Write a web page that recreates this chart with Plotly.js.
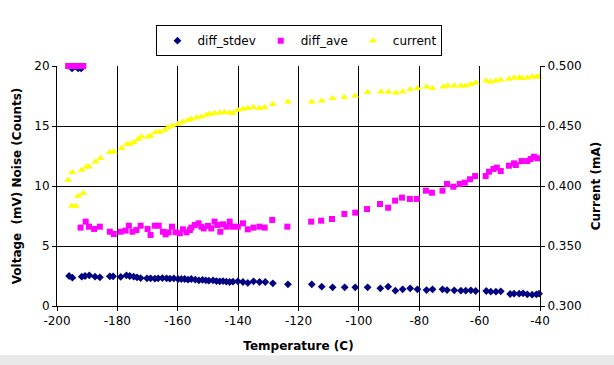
<!DOCTYPE html>
<html><head><meta charset="utf-8">
<script src="https://cdn.plot.ly/plotly-3.0.1.min.js"></script>
<style>html,body{margin:0;padding:0;background:#fff}#chart{width:614px;height:365px}</style>
</head><body><div id="chart"></div>
<script>
const stdevT = [-195.0,-193.0,-192.0,-196.0,-194.9,-191.8,-190.7,-189.3,-187.4,-185.8,-182.5,-181.4,-178.9,-177.0,-175.9,-174.6,-173.5,-172.3,-170.2,-169.0,-167.6,-166.5,-165.1,-163.7,-162.6,-161.3,-159.9,-158.8,-157.7,-156.6,-155.5,-154.2,-153.0,-151.8,-150.7,-149.7,-148.3,-147.2,-146.1,-145.0,-143.9,-142.8,-141.7,-140.1,-138.4,-136.8,-134.9,-132.9,-131.0,-128.5,-123.5,-115.6,-112.3,-108.7,-104.7,-101.2,-97.1,-92.9,-90.3,-87.9,-85.5,-83.0,-80.6,-77.6,-75.6,-72.3,-70.8,-68.4,-66.2,-64.6,-62.9,-61.3,-57.8,-56.3,-54.6,-53.0,-49.9,-48.6,-46.9,-45.6,-44.2,-42.6,-41.2,-40.3];
const stdevV = [19.8,19.8,19.8,2.5,2.36,2.44,2.5,2.56,2.44,2.39,2.47,2.47,2.42,2.56,2.5,2.44,2.39,2.33,2.31,2.31,2.28,2.31,2.33,2.31,2.28,2.31,2.25,2.25,2.25,2.19,2.25,2.19,2.14,2.17,2.14,2.11,2.14,2.08,2.06,2.08,2.03,2.0,2.03,2.06,2.0,1.92,2.06,2.0,2.0,1.89,1.81,1.81,1.61,1.56,1.56,1.56,1.56,1.47,1.61,1.28,1.39,1.47,1.39,1.33,1.39,1.39,1.33,1.31,1.28,1.28,1.31,1.25,1.25,1.19,1.19,1.22,1.0,1.03,1.03,1.06,0.97,0.94,0.97,1.03];

const aveT = [-196.3,-195.3,-194.3,-193.3,-192.3,-191.3,-192.2,-190.5,-189.4,-187.7,-185.8,-182.5,-181.2,-178.9,-177.3,-176.2,-175.0,-173.7,-172.3,-170.0,-169.0,-167.6,-166.3,-164.9,-164.0,-163.0,-161.9,-160.7,-159.3,-158.3,-157.1,-156.0,-155.5,-154.4,-153.1,-152.2,-151.4,-150.0,-148.9,-147.8,-146.9,-145.9,-145.0,-143.9,-142.8,-141.9,-140.1,-138.4,-136.8,-134.9,-132.9,-131.2,-128.7,-123.7,-115.8,-112.5,-108.9,-104.8,-101.2,-97.3,-93.0,-90.3,-88.0,-85.7,-83.1,-80.8,-77.8,-75.8,-72.3,-70.8,-68.7,-66.6,-64.9,-63.2,-61.5,-58.0,-56.9,-55.4,-54.3,-53.0,-50.3,-48.6,-48.0,-46.1,-44.2,-43.1,-42.0,-40.9];
const aveV = [20,20,20,20,20,20,6.53,7.03,6.61,6.42,6.61,6.19,6.0,6.19,6.28,6.69,6.19,6.33,6.69,6.42,5.92,6.69,6.69,6.19,5.97,6.14,6.61,6.14,6.06,6.39,6.14,6.33,6.53,6.75,6.89,6.61,6.47,6.67,6.47,7.03,6.75,6.19,6.81,6.61,7.03,6.61,6.61,6.89,6.39,6.53,6.61,6.53,7.17,6.61,7.03,7.11,7.25,7.67,7.78,8.08,8.5,8.19,8.78,9.03,8.92,8.92,9.61,9.44,9.61,10.17,9.94,10.17,10.28,10.56,10.83,10.83,11.19,11.42,11.53,11.25,11.69,11.89,11.75,12.08,12.08,12.25,12.44,12.31];

const curT = [-195.1,-193.8,-193.0,-191.3,-196.3,-194.9,-191.8,-190.2,-189.4,-187.2,-185.6,-182.5,-181.2,-178.6,-176.8,-175.9,-174.6,-173.1,-172.0,-169.8,-169.0,-167.3,-166.0,-164.3,-163.2,-161.8,-159.9,-158.3,-156.6,-155.5,-153.8,-152.2,-150.5,-149.4,-147.8,-146.1,-144.5,-142.8,-141.7,-140.1,-138.4,-136.8,-134.9,-132.9,-131.2,-128.5,-123.5,-115.6,-112.3,-108.7,-104.8,-101.2,-97.1,-92.7,-90.2,-87.7,-85.5,-83.0,-80.6,-77.6,-75.6,-72.0,-70.6,-68.4,-66.2,-64.6,-62.9,-61.3,-57.8,-56.3,-54.6,-53.0,-50.3,-48.6,-46.9,-45.9,-44.2,-42.6,-41.2,-40.3];
const curV = [0.3833,0.3833,0.3917,0.3939,0.405,0.4114,0.4133,0.4161,0.4161,0.4203,0.4231,0.4281,0.4286,0.4314,0.4348,0.4348,0.4364,0.4389,0.4411,0.4411,0.4419,0.4448,0.4448,0.4467,0.4489,0.4503,0.4517,0.4536,0.4548,0.4558,0.4569,0.4578,0.4592,0.46,0.4606,0.4611,0.4614,0.4611,0.4606,0.4633,0.4642,0.4648,0.4656,0.4648,0.4656,0.4681,0.4703,0.4703,0.4711,0.4731,0.4739,0.4753,0.4781,0.4786,0.4786,0.4778,0.4786,0.4806,0.4814,0.4828,0.4814,0.4828,0.4836,0.4836,0.4836,0.4836,0.4848,0.4861,0.4878,0.4869,0.4878,0.4883,0.4892,0.4903,0.4903,0.4897,0.4903,0.4911,0.4911,0.4911];

const seriesNames = ['diff_stdev','diff_ave','current'];
const xTickVals = [-200,-180,-160,-140,-120,-100,-80,-60,-40];
const xTickText = ['-200','-180','-160','-140','-120','-100','-80','-60','-40'];

const FONT = 'DejaVu Sans, Verdana, sans-serif';
const traces = [
  {x: stdevT, y: stdevV, name: seriesNames[0], type: 'scatter', mode: 'markers', cliponaxis: false,
   marker: {symbol: 'diamond', size: 6, color: '#000080'}},
  {x: aveT, y: aveV, name: seriesNames[1], type: 'scatter', mode: 'markers', cliponaxis: false,
   marker: {symbol: 'square', size: 6, color: '#FF00FF'}},
  {x: curT, y: curV, name: seriesNames[2], type: 'scatter', mode: 'markers', yaxis: 'y2', cliponaxis: false,
   marker: {symbol: 'triangle-up', size: 7, color: '#FFFF00'}}
];

const layout = {
  width: 614, height: 365,
  margin: {l: 57, r: 74, t: 66, b: 59},
  paper_bgcolor: '#ffffff', plot_bgcolor: '#ffffff',
  font: {family: FONT, size: 12, color: '#000'},
  showlegend: true,
  legend: {orientation: 'h', x: 0.502, xanchor: 'center', y: 1.17, yanchor: 'top',
           bordercolor: '#000', borderwidth: 1, font: {size: 12, family: FONT},
           itemwidth: 30, tracegroupgap: 0},
  xaxis: {range: [-200, -40], tickvals: xTickVals, ticktext: xTickText, showgrid: true, gridcolor: '#000', gridwidth: 1,
          zeroline: false, showline: true, linecolor: '#000', linewidth: 1,
          ticks: 'outside', ticklen: 4, tickcolor: '#000',
          title: {text: 'Temperature (C)', font: {size: 12, weight: 'bold'}, standoff: 14}},
  yaxis: {range: [0, 20], dtick: 5, showgrid: true, gridcolor: '#000', gridwidth: 1,
          zeroline: false, showline: true, linecolor: '#000', linewidth: 1,
          ticks: 'outside', ticklen: 4, tickcolor: '#000',
          title: {text: 'Voltage  (mV) Noise (Counts)', font: {size: 12, weight: 'bold'}, standoff: 10}},
  yaxis2: {range: [0.3, 0.5], dtick: 0.05, tickformat: '.3f', overlaying: 'y', side: 'right',
           showgrid: false, zeroline: false, showline: true, linecolor: '#000', linewidth: 1,
           ticks: 'outside', ticklen: 4, tickcolor: '#000',
           title: {text: 'Current (mA)', font: {size: 12, weight: 'bold'}, standoff: 10}},
  shapes: [{type: 'rect', xref: 'paper', yref: 'paper', x0: -0.2, x1: 1.3, y0: -0.27, y1: -0.205,
            fillcolor: '#e9e9e9', line: {width: 0}, layer: 'below'}]
};

Plotly.newPlot('chart', traces, layout, {displayModeBar: false, staticPlot: true});
</script>
</body></html>
